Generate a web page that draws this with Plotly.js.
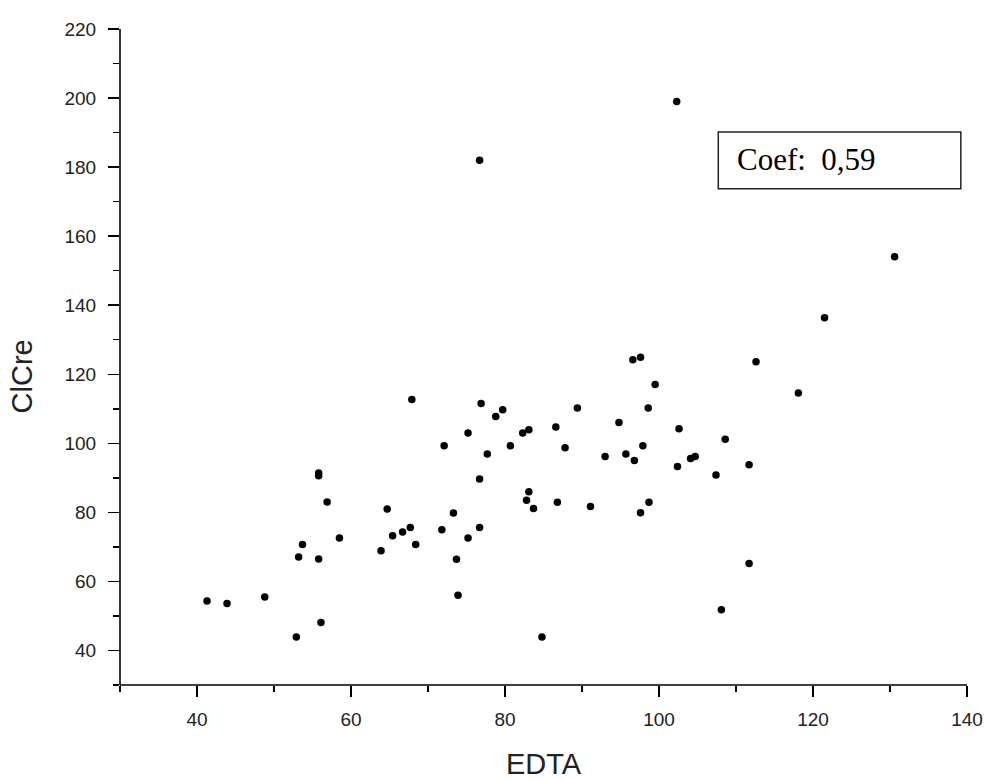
<!DOCTYPE html>
<html>
<head>
<meta charset="utf-8">
<script src="https://cdn.plot.ly/plotly-3.0.1.min.js"></script>
<style>
  html, body { margin: 0; padding: 0; background: #ffffff; }
  #chart { width: 985px; height: 780px; }
</style>
</head>
<body>
<div id="chart"></div>
<script>
// EDTA (x) values
const edta = [
  41.3, 43.9, 48.8, 52.9, 56.1, 53.2, 53.7, 55.8, 58.5, 63.9,
  65.4, 66.7, 67.7, 68.4, 71.8, 55.8, 55.8, 56.9, 64.7, 67.9,
  72.1, 73.3, 73.7, 73.9, 75.2, 75.2, 76.7, 76.7, 76.9, 76.7,
  77.7, 78.8, 79.7, 80.7, 82.3, 83.1, 83.1, 82.8, 83.7, 84.8,
  86.6, 86.8, 87.8, 89.4, 91.1, 93.0, 94.8, 95.7, 96.8, 96.6,
  97.6, 97.9, 97.6, 98.6, 98.7, 99.5, 102.3, 102.6, 102.4, 104.1,
  104.7, 107.4, 108.1, 108.6, 111.7, 111.7, 112.6, 118.1, 121.5, 130.6
];
// ClCre (y) values
const clcre = [
  54.3, 53.6, 55.5, 43.9, 48.1, 67.1, 70.7, 66.5, 72.6, 68.9,
  73.2, 74.3, 75.6, 70.7, 75.0, 91.4, 90.6, 83.0, 81.0, 112.7,
  99.3, 79.8, 66.4, 56.0, 72.6, 103.0, 75.6, 89.7, 111.5, 182.0,
  96.9, 107.8, 109.7, 99.3, 103.0, 103.9, 86.0, 83.5, 81.1, 43.9,
  104.7, 82.9, 98.7, 110.2, 81.7, 96.2, 106.0, 96.9, 95.0, 124.2,
  124.9, 99.3, 79.9, 110.2, 82.9, 117.0, 199.0, 104.2, 93.3, 95.6,
  96.2, 90.8, 51.8, 101.2, 93.8, 65.2, 123.6, 114.6, 136.4, 154.0
];
const xTitle = 'EDTA';
const yTitle = 'ClCre';
const coefLabel = 'Coef:\u00a0 0,59';

const axisFont = { family: 'Arial, "Liberation Sans", sans-serif', size: 19, color: '#222222' };
const titleFont = { family: 'Arial, "Liberation Sans", sans-serif', size: 29, color: '#222222' };

const trace = {
  type: 'scatter',
  mode: 'markers',
  x: edta,
  y: clcre,
  marker: { color: '#000000', size: 7.5, line: { width: 0 } },
  hoverinfo: 'x+y',
  showlegend: false
};

const layout = {
  width: 985,
  height: 780,
  margin: { l: 120, r: 18, t: 29, b: 95, pad: 0 },
  paper_bgcolor: '#ffffff',
  plot_bgcolor: '#ffffff',
  showlegend: false,
  xaxis: {
    range: [30, 140],
    tick0: 0,
    dtick: 20,
    ticks: 'outside',
    ticklen: 11,
    tickwidth: 1.5,
    tickcolor: '#000000',
    ticklabelstandoff: 6,
    showline: false,
    mirror: false,
    showgrid: false,
    zeroline: false,
    tickfont: axisFont,
    minor: { dtick: 10, tick0: 0, ticks: 'outside', ticklen: 6, tickwidth: 1.5, tickcolor: '#000000', showgrid: false },
    title: { text: xTitle, font: titleFont, standoff: 24 },
    fixedrange: true
  },
  yaxis: {
    range: [30, 220],
    tick0: 0,
    dtick: 20,
    ticks: 'outside',
    ticklen: 11,
    tickwidth: 1.5,
    tickcolor: '#000000',
    ticklabelstandoff: 8,
    showline: false,
    mirror: false,
    showgrid: false,
    zeroline: false,
    tickfont: axisFont,
    minor: { dtick: 10, tick0: 0, ticks: 'outside', ticklen: 6, tickwidth: 1.5, tickcolor: '#000000', showgrid: false },
    title: { text: '' },
    fixedrange: true
  },
  shapes: [{
    // left axis line
    type: 'line',
    xref: 'paper', yref: 'paper',
    x0: 0, x1: 0, y0: 0, y1: 1,
    line: { color: '#000000', width: 1.6 }
  }, {
    // bottom axis line
    type: 'line',
    xref: 'paper', yref: 'paper',
    x0: 0, x1: 1, y0: 0, y1: 0,
    line: { color: '#000000', width: 1.6 }
  }, {
    type: 'rect',
    xref: 'x', yref: 'y',
    x0: 107.7, x1: 139.2, y0: 173.7, y1: 190.2,
    line: { color: '#222222', width: 1.5 },
    fillcolor: 'rgba(255,255,255,0)'
  }],
  annotations: [{
    xref: 'paper', yref: 'paper',
    x: -0.116, y: 0.47,
    xanchor: 'center', yanchor: 'middle',
    textangle: -90,
    text: yTitle,
    showarrow: false,
    font: titleFont
  }, {
    xref: 'x', yref: 'y',
    x: 109.9, y: 182.2,
    xanchor: 'left', yanchor: 'middle',
    text: coefLabel,
    showarrow: false,
    font: { family: '"Liberation Serif", "Times New Roman", serif', size: 31, color: '#000000' }
  }]
};

Plotly.newPlot('chart', [trace], layout, { displayModeBar: false, staticPlot: true });
</script>
</body>
</html>
